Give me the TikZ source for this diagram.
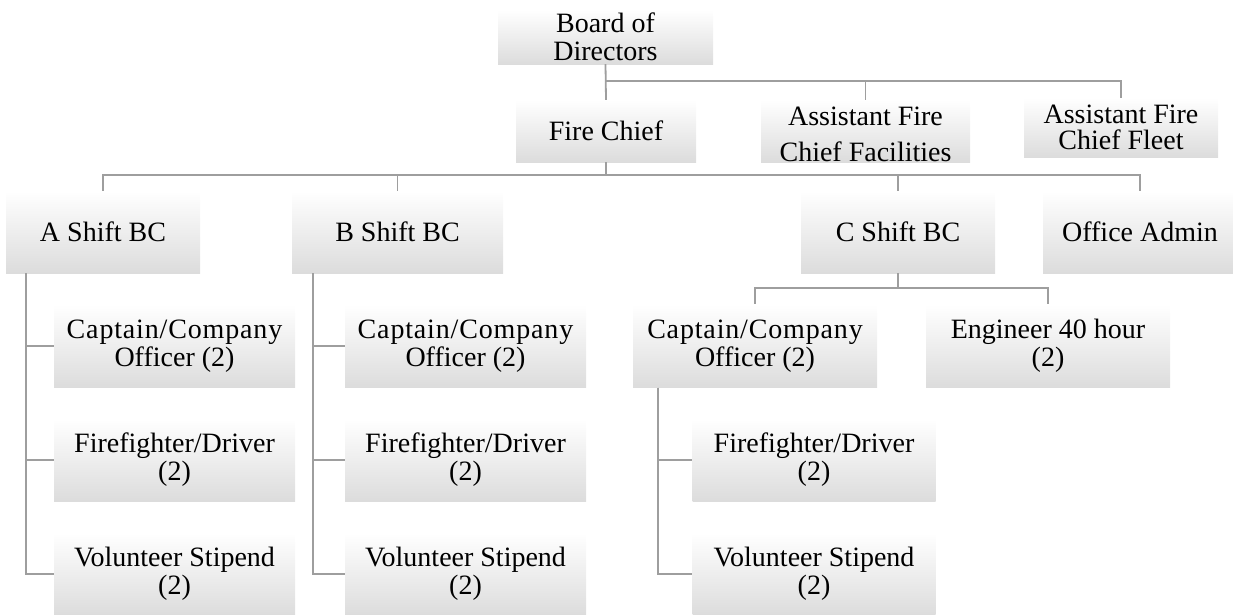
\documentclass[tikz,border=0pt]{standalone}
\usepackage{fontspec}
\setmainfont{Liberation Serif}
\newfontfamily\spacedfont[LetterSpace=3]{Liberation Serif}
\definecolor{boxgray}{RGB}{220,220,220}
\definecolor{linegray}{RGB}{158,158,158}
\tikzset{
  orgbox/.style={shading=axis, top color=white, middle color=white, bottom color=boxgray,
    inner sep=0pt, align=center, font=\fontsize{28}{28}\selectfont,
    minimum height=#1},
  orgbox/.default=82pt,
  txt/.style={inner sep=0pt, align=center},
  conn/.style={draw=linegray, line width=1.8pt},
}
\begin{document}
\begin{tikzpicture}[x=1pt,y=-1pt]
\useasboundingbox (0,0) rectangle (1233,614);
% top levels
\node[orgbox=54pt, minimum width=215pt] (board) at (605.5,37) {Board of\\Directors};
\node[orgbox=62pt, minimum width=180pt] (chief) at (606,131) {Fire Chief};
\node[orgbox=62pt, minimum width=209pt] (facil) at (865.5,131) {};
\begin{scope}
  \clip (facil.north west) rectangle (facil.south east);
  \node[txt, font=\fontsize{28}{36}\selectfont] (faciltext) at (865.5,134) {Assistant Fire\\Chief Facilities};
\end{scope}
\node[orgbox=59pt, minimum width=194pt, font=\fontsize{28}{26}\selectfont] (fleet) at (1121,127.5) {Assistant Fire\\Chief Fleet};
% shift level
\node[orgbox, minimum width=194pt] (ashift) at (103,232) {A Shift BC};
\node[orgbox, minimum width=211pt] (bshift) at (397.5,232) {B Shift BC};
\node[orgbox, minimum width=194pt] (cshift) at (898,232) {C Shift BC};
\node[orgbox, minimum width=194pt] (admin) at (1140,232) {Office Admin};
% A column
\node[orgbox=83pt, minimum width=241pt] (acap) at (174.5,346) {{\spacedfont Captain/Company}\\Officer (2)};
\node[orgbox, minimum width=241pt] (aff) at (174.5,460) {Firefighter/Driver\\(2)};
\node[orgbox, minimum width=241pt] (avol) at (174.5,574) {Volunteer Stipend\\(2)};
% B column
\node[orgbox=83pt, minimum width=241pt] (bcap) at (465.5,346) {{\spacedfont Captain/Company}\\Officer (2)};
\node[orgbox, minimum width=241pt] (bff) at (465.5,460) {Firefighter/Driver\\(2)};
\node[orgbox, minimum width=241pt] (bvol) at (465.5,574) {Volunteer Stipend\\(2)};
% C column
\node[orgbox=83pt, minimum width=244pt] (ccap) at (755,346) {{\spacedfont Captain/Company}\\Officer (2)};
\node[orgbox=83pt, minimum width=244pt] (eng) at (1048,346) {Engineer 40 hour\\(2)};
\node[orgbox, minimum width=243pt] (cff) at (814,460) {Firefighter/Driver\\(2)};
\node[orgbox, minimum width=243pt] (cvol) at (814,574) {Volunteer Stipend\\(2)};
% connectors: board
\draw[conn] (board.south) -- (chief.north);
\draw[conn] (board.south) ++(0,17) -| (facil.north);
\draw[conn] (board.south) ++(0,17) -| (fleet.north);
% chief
\draw[conn] (chief.south) -- ++(0,13) -| (ashift.north);
\draw[conn] (chief.south) -- ++(0,13) -| (bshift.north);
\draw[conn] (chief.south) -- ++(0,13) -| (cshift.north);
\draw[conn] (chief.south) -- ++(0,13) -| (admin.north);
% C shift
\draw[conn] (cshift.south) -- ++(0,15) -| (ccap.north);
\draw[conn] (cshift.south) -- ++(0,15) -| (eng.north);
% A column
\coordinate (atop) at ([xshift=20pt]ashift.south west);
\draw[conn] (atop) |- (avol.west);
\draw[conn] (atop) |- (acap.west);
\draw[conn] (atop) |- (aff.west);
% B column
\coordinate (btop) at ([xshift=21pt]bshift.south west);
\draw[conn] (btop) |- (bvol.west);
\draw[conn] (btop) |- (bcap.west);
\draw[conn] (btop) |- (bff.west);
% C column
\coordinate (ctop) at ([xshift=25pt]ccap.south west);
\draw[conn] (ctop) |- (cvol.west);
\draw[conn] (ctop) |- (cff.west);
\end{tikzpicture}
\end{document}
